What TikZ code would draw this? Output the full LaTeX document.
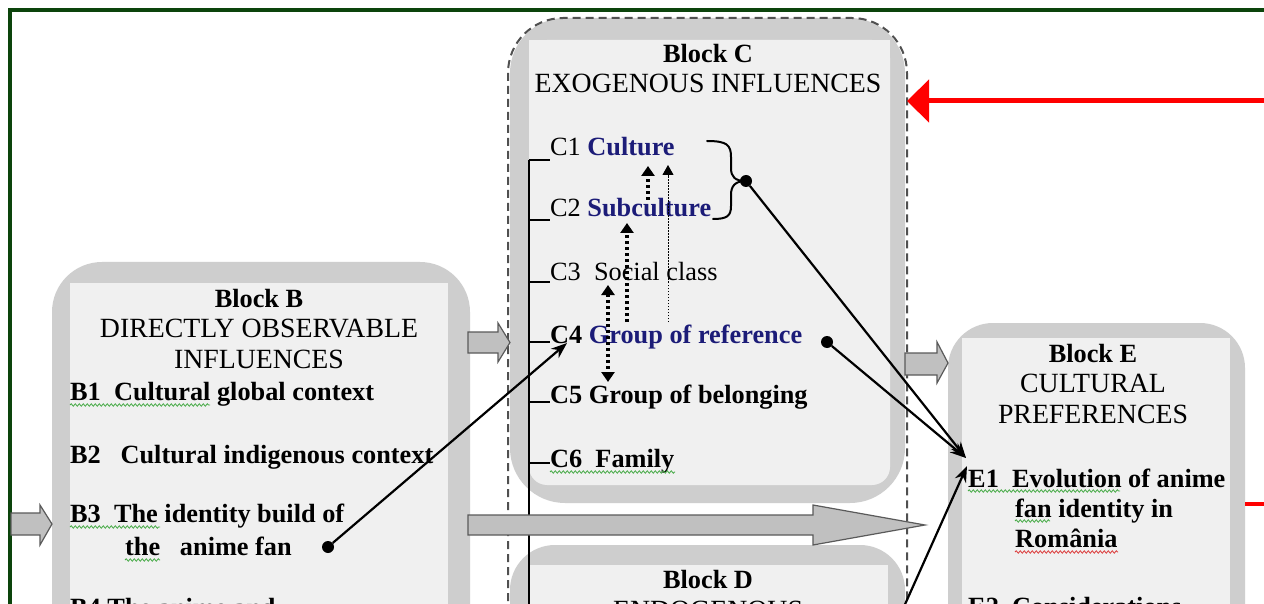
\documentclass[tikz,border=0pt]{standalone}
\usepackage{fontspec}
\setmainfont{Liberation Serif}
\usetikzlibrary{arrows.meta,decorations.pathmorphing}

\definecolor{framegreen}{RGB}{12,68,12}
\definecolor{boxgray}{RGB}{206,206,206}
\definecolor{boxlight}{RGB}{240,240,240}
\definecolor{arrowgray}{RGB}{192,192,192}
\definecolor{arrowedge}{RGB}{90,90,90}
\definecolor{navy}{RGB}{28,28,120}
\definecolor{dashgray}{RGB}{80,80,80}
\definecolor{spellgreen}{RGB}{70,170,70}
\definecolor{spellred}{RGB}{220,60,60}

\newcommand\itemfont{\fontsize{26.3}{30}\selectfont}
\newcommand\titlefont{\fontsize{27.8}{32}\selectfont}

\begin{document}
\begin{tikzpicture}[x=1pt, y=-1pt,
  itm/.style={inner sep=0pt, anchor=base west, font=\itemfont},
  ttl/.style={inner sep=0pt, anchor=base, font=\titlefont},
  hdr/.style={inner sep=0pt, anchor=base, font=\itemfont\bfseries},
  outerbox/.style={fill=boxgray},
  innerbox/.style={fill=boxlight},
  barrow/.style={fill=arrowgray, draw=arrowedge, line width=1.2pt, line join=miter},
  conn/.style={line width=2.2pt, -{Stealth[length=16pt,width=12pt]}},
  dot/.style={circle, fill=black, inner sep=0pt, minimum size=12pt},
  thickdot/.style={line width=4pt, dash pattern=on 3pt off 3pt},
  thindot/.style={line width=1pt, dash pattern=on 1.5pt off 1.5pt},
  spell/.style={decorate, decoration={snake, segment length=4pt, amplitude=1.2pt}, line width=0.8pt, draw=spellgreen},
  tick/.style={line width=1.1pt}
]
\useasboundingbox (0,0) rectangle (1264,604);
\clip (0,0) rectangle (1264,604);
\fill[white] (0,0) rectangle (1264,604);

% frame
\draw[framegreen, line width=3.5pt] (10,640) -- (10,10) -- (1290,10);

% Block B
\fill[outerbox, rounded corners=50pt] (52,262) rectangle (470,760);
\fill[innerbox] (70,283) rectangle (448,760);

% Block C
\fill[outerbox, rounded corners=55pt] (510,18) rectangle (905,503);
\fill[innerbox, rounded corners=18pt] (529,40) rectangle (890,485);
\fill[innerbox] (529,40) rectangle (890,100);

% Block D
\fill[outerbox, rounded corners=45pt] (510,545) rectangle (905,760);
\fill[innerbox] (529,565) rectangle (888,760);

% Block E
\fill[outerbox, rounded corners=45pt] (948,323) rectangle (1245,760);
\fill[innerbox] (962,338) rectangle (1230,760);

% dashed outline around C and D
\draw[dashgray, line width=2pt, dash pattern=on 8pt off 5pt, rounded corners=55pt]
  (508,640) -- (508,18) -- (907,18) -- (907,640);

% bracket line with ticks
\coordinate (brTop) at (529,160);
\coordinate (brBot) at (529,640);
\draw[tick] (brTop) -- (brBot);
\foreach \y in {160,220,282,342,402,463} \draw[tick] (529,\y) -- (550,\y);

% block arrows
\draw[barrow] (11,513) -- (40,513) -- (40,505) -- (52,524) -- (40,545) -- (40,535) -- (11,535) -- cycle;
\draw[barrow] (468,332) -- (498,332) -- (498,323) -- (510,342.5) -- (498,362) -- (498,353) -- (468,353) -- cycle;
\draw[barrow] (905,353) -- (937,353) -- (937,342) -- (948,363) -- (937,383) -- (937,375) -- (905,375) -- cycle;
\draw[barrow] (468,515) -- (813,515) -- (813,505) -- (925,525) -- (813,545) -- (813,535) -- (468,535) -- cycle;

% Block B texts
\node[hdr] (bT1) at (259,307) {Block B};
\node[ttl] (bT2) at (259,337) {DIRECTLY OBSERVABLE};
\node[ttl] (bT3) at (259,368) {INFLUENCES};
\node[itm] (b1) at (70,400) {\bfseries B1\ \ Cultural global context};
\node[itm] (b2) at (70,463) {\bfseries B2\ \ \ Cultural indigenous context};
\node[itm] (b3) at (70,522) {\bfseries B3\ \ The identity build of};
\node[itm] (b3b) at (125,555) {\bfseries the\ \ \ anime fan};
\node[itm] (b4) at (70,616) {\bfseries B4 The anime and};

% Block C texts
\node[hdr] (cT1) at (708,63) {Block C};
\node[ttl] (cT2) at (708,93) {EXOGENOUS INFLUENCES};
\node[itm] (c1) at (550,156) {C1 \textcolor{navy}{\bfseries Culture}};
\node[itm] (c2) at (550,217) {C2 \textcolor{navy}{\bfseries Subculture}};
\node[itm] (c3) at (550,280) {C3\ \ Social class};
\node[itm] (c4) at (550,343) {\bfseries C4 \textcolor{navy}{Group of reference}};
\node[itm] (c5) at (550,403) {\bfseries C5 Group of belonging};
\node[itm] (c6) at (550,467) {\bfseries C6\ \ Family};

% Block D texts
\node[hdr] (dT1) at (708,588) {Block D};
\node[ttl] (dT2) at (708,619) {ENDOGENOUS};

% Block E texts
\node[hdr] (eT1) at (1093,362) {Block E};
\node[ttl] (eT2) at (1093,392) {CULTURAL};
\node[ttl] (eT3) at (1093,423) {PREFERENCES};
\node[itm] (e1) at (968,487) {\bfseries E1\ \ Evolution of anime};
\node[itm] (e1b) at (1015,517) {\bfseries fan identity in};
\node[itm] (e1c) at (1015,547) {\bfseries România};
\node[itm] (e2) at (968,615) {\bfseries E2\ \ Considerations};

% spell-check underlines
\draw[spell] (70,405) -- (210,405);
\draw[spell] (70,527) -- (160,527);
\draw[spell] (125,560) -- (160,560);
\draw[spell] (550,472) -- (675,472);
\draw[spell] (968,491) -- (1120,491);
\draw[spell] (1015,521) -- (1050,521);
\draw[spell, draw=spellred] (1015,552) -- (1118,552);

% dots
\node[dot] (b3dot) at (328,547) {};
\node[dot] (bracedot) at (746,181) {};
\node[dot] (c4dot) at (827,342) {};

% brace
\coordinate (braceTop) at (707,141);
\coordinate (braceBot) at (713,219);
\draw[line width=2pt, line cap=round]
  (braceTop) .. controls (727,141) and (731,145) .. (731,157)
  -- (731,168) .. controls (731,177) and (735,181) .. (bracedot.center)
  .. controls (735,181) and (731,186) .. (731,195)
  -- (731,206) .. controls (731,216) and (727,219) .. (braceBot);

% dotted arrows in block C
\coordinate (dA1) at (608,285);
\coordinate (dA2) at (608,382);
\coordinate (dB1) at (627,322);
\coordinate (dB2) at (627,223);
\coordinate (dC1) at (648,200);
\coordinate (dC2) at (648,166);
\coordinate (dD1) at (668,322);
\coordinate (dD2) at (668,165);
\draw[thickdot, {Triangle[length=10pt,width=13pt]}-{Triangle[length=10pt,width=13pt]}] (dA1) -- (dA2);
\draw[thickdot, -{Triangle[length=10pt,width=13pt]}] (dB1) -- (dB2);
\draw[thickdot, -{Triangle[length=10pt,width=13pt]}] (dC1) -- (dC2);
\draw[thindot, -{Triangle[length=10pt,width=11pt]}] (dD1) -- (dD2);

% connectors
\coordinate (c4in) at (567,343);
\coordinate (e1in) at (966,458);
\coordinate (e1inb) at (967,466);
\coordinate (dOut) at (898,620);
\draw[conn] (b3dot) -- (c4in);
\draw[conn] (bracedot) -- (e1in);
\draw[conn] (c4dot) -- (e1in);
\draw[conn] (dOut) -- (e1inb);

% red arrows
\coordinate (redSrc) at (1290,101);
\coordinate (cRedIn) at (907,101);
\draw[red, line width=5pt, -{Triangle[length=22pt,width=42pt]}] (redSrc) -- (cRedIn);
\coordinate (eRedOut) at (1245,504);
\coordinate (redRight) at (1290,504);
\draw[red, line width=4pt] (eRedOut) -- (redRight);
\end{tikzpicture}
\end{document}
